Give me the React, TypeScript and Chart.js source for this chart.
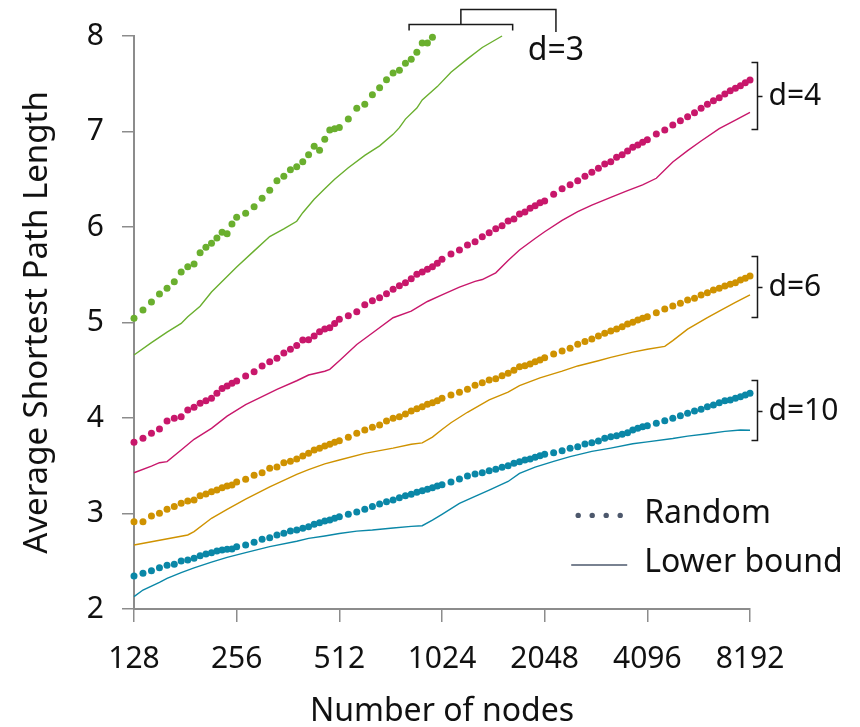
import { useEffect, useRef } from "react";
import { Chart, registerables } from "chart.js";

Chart.register(...registerables);

const FONT = "'Noto Sans', 'Open Sans', sans-serif";

const nodes = [
  128, 136, 144, 152, 160, 168, 176, 184, 192, 200, 208, 216, 224, 232, 240, 248,
  256, 272, 288, 304, 320, 336, 352, 368, 384, 400, 416, 432, 448, 464, 480, 496,
  512, 544, 576, 608, 640, 672, 704, 736, 768, 800, 832, 864, 896, 928, 960, 992,
  1024, 1088, 1152, 1216, 1280, 1344, 1408, 1472, 1536, 1600, 1664, 1728, 1792, 1856, 1920, 1984,
  2048, 2176, 2304, 2432, 2560, 2688, 2816, 2944, 3072, 3200, 3328, 3456, 3584, 3712, 3840, 3968,
  4096, 4352, 4608, 4864, 5120, 5376, 5632, 5888, 6144, 6400, 6656, 6912, 7168, 7424, 7680, 7936,
  8192,
];

const xTickValues = [128, 256, 512, 1024, 2048, 4096, 8192];
const yTickValues = [2, 3, 4, 5, 6, 7, 8];

// Random graphs (dotted), one value per entry of `nodes`
const randomD3 = [
  5.044, 5.131, 5.215, 5.298, 5.358, 5.427, 5.529, 5.584, 5.613, 5.731, 5.787, 5.829, 5.885, 5.944, 5.93, 6.031,
  6.102, 6.144, 6.213, 6.3, 6.384, 6.485, 6.531, 6.6, 6.63, 6.684, 6.757, 6.845, 6.803, 6.918, 7.016, 7.03,
  7.043, 7.131, 7.243, 7.285, 7.386, 7.459, 7.543, 7.613, 7.641, 7.714, 7.756, 7.829, 7.927, 7.927, 7.986,
];
const randomD4 = [
  3.745, 3.787, 3.84, 3.885, 3.969, 3.997, 4.013, 4.084, 4.112, 4.154, 4.18, 4.206, 4.26, 4.31, 4.335, 4.363,
  4.387, 4.44, 4.485, 4.545, 4.59, 4.625, 4.68, 4.72, 4.76, 4.817, 4.82, 4.858, 4.904, 4.932, 4.946, 4.99,
  5.033, 5.071, 5.113, 5.187, 5.229, 5.26, 5.302, 5.348, 5.386, 5.417, 5.459, 5.505, 5.529, 5.557, 5.584, 5.62,
  5.662, 5.717, 5.759, 5.812, 5.846, 5.898, 5.94, 5.982, 6.014, 6.063, 6.084, 6.136, 6.157, 6.196, 6.223, 6.255,
  6.272, 6.342, 6.401, 6.443, 6.485, 6.531, 6.573, 6.615, 6.66, 6.684, 6.73, 6.757, 6.796, 6.835, 6.859, 6.887,
  6.914, 6.974, 7.016, 7.068, 7.113, 7.155, 7.197, 7.243, 7.285, 7.323, 7.354, 7.393, 7.428, 7.452, 7.48, 7.511,
  7.539,
];
const randomD6 = [
  2.914, 2.914, 2.974, 3.002, 3.044, 3.072, 3.107, 3.131, 3.141, 3.187, 3.204, 3.228, 3.246, 3.27, 3.288, 3.298,
  3.33, 3.358, 3.4, 3.427, 3.473, 3.487, 3.532, 3.547, 3.571, 3.602, 3.63, 3.665, 3.682, 3.707, 3.725, 3.745,
  3.762, 3.798, 3.84, 3.874, 3.902, 3.927, 3.969, 3.997, 4.014, 4.042, 4.073, 4.098, 4.119, 4.143, 4.16, 4.181,
  4.206, 4.241, 4.269, 4.3, 4.342, 4.37, 4.398, 4.412, 4.443, 4.468, 4.5, 4.537, 4.548, 4.565, 4.59, 4.607,
  4.632, 4.67, 4.702, 4.73, 4.772, 4.8, 4.827, 4.859, 4.887, 4.911, 4.932, 4.956, 4.984, 5.002, 5.026, 5.044,
  5.061, 5.103, 5.141, 5.173, 5.201, 5.236, 5.253, 5.288, 5.312, 5.34, 5.358, 5.382, 5.4, 5.417, 5.445, 5.463,
  5.487,
];
const randomD10 = [
  2.346, 2.374, 2.401, 2.433, 2.458, 2.468, 2.503, 2.513, 2.531, 2.558, 2.576, 2.59, 2.607, 2.618, 2.625, 2.628,
  2.653, 2.67, 2.698, 2.73, 2.747, 2.775, 2.792, 2.817, 2.827, 2.845, 2.862, 2.887, 2.904, 2.921, 2.932, 2.95,
  2.967, 2.992, 3.016, 3.044, 3.072, 3.1, 3.124, 3.141, 3.165, 3.186, 3.201, 3.222, 3.239, 3.253, 3.27, 3.288,
  3.302, 3.33, 3.361, 3.393, 3.414, 3.427, 3.448, 3.463, 3.483, 3.5, 3.526, 3.543, 3.56, 3.571, 3.588, 3.605,
  3.62, 3.637, 3.658, 3.682, 3.7, 3.728, 3.742, 3.759, 3.787, 3.804, 3.815, 3.829, 3.846, 3.874, 3.892, 3.909,
  3.92, 3.944, 3.972, 3.997, 4.024, 4.049, 4.073, 4.091, 4.119, 4.136, 4.16, 4.181, 4.188, 4.206, 4.223, 4.241,
  4.258,
];

// Lower bounds (solid), read at selected node counts
const boundD3Nodes = [128, 144, 160, 176, 184, 200, 216, 256, 288, 320, 352, 384, 400, 432, 464, 496, 544, 608, 672, 736, 768, 800, 864, 896, 992, 1088, 1216, 1344, 1536];
const boundD3 = [4.66, 4.79, 4.9, 4.99, 5.06, 5.17, 5.32, 5.58, 5.75, 5.9, 5.98, 6.06, 6.15, 6.29, 6.4, 6.5, 6.62, 6.75, 6.85, 6.97, 7.04, 7.13, 7.245, 7.33, 7.47, 7.62, 7.76, 7.88, 8.0];

const boundD4Nodes = [128, 144, 152, 160, 176, 192, 216, 240, 272, 304, 336, 384, 416, 464, 480, 512, 576, 640, 736, 832, 928, 1024, 1152, 1280, 1344, 1472, 1600, 1728, 1920, 2048, 2304, 2560, 2816, 3200, 3584, 3968, 4352, 4864, 5376, 5888, 6656, 7424, 8192];
const boundD4 = [3.427, 3.497, 3.532, 3.543, 3.665, 3.777, 3.892, 4.02, 4.14, 4.223, 4.3, 4.39, 4.45, 4.49, 4.51, 4.6, 4.77, 4.89, 5.05, 5.12, 5.22, 5.29, 5.37, 5.43, 5.45, 5.52, 5.65, 5.76, 5.88, 5.95, 6.07, 6.16, 6.23, 6.31, 6.38, 6.44, 6.51, 6.68, 6.8, 6.9, 7.03, 7.12, 7.2];

const boundD6Nodes = [128, 184, 192, 216, 240, 272, 320, 384, 416, 464, 512, 608, 736, 832, 896, 960, 1024, 1088, 1216, 1408, 1600, 1728, 1984, 2304, 2560, 2944, 3200, 3712, 4096, 4608, 4864, 5376, 6144, 6656, 7424, 8192];
const boundD6 = [2.67, 2.775, 2.81, 2.95, 3.044, 3.15, 3.28, 3.41, 3.46, 3.52, 3.56, 3.63, 3.685, 3.725, 3.74, 3.8, 3.88, 3.95, 4.06, 4.19, 4.27, 4.34, 4.42, 4.49, 4.545, 4.6, 4.635, 4.69, 4.72, 4.75, 4.81, 4.93, 5.05, 5.12, 5.21, 5.29];

const boundD10Nodes = [128, 136, 152, 160, 176, 192, 216, 240, 272, 320, 384, 416, 464, 512, 576, 640, 736, 832, 896, 960, 1024, 1152, 1280, 1408, 1600, 1728, 1920, 2176, 2432, 2816, 3200, 3712, 4096, 4864, 5376, 6144, 6912, 7680, 8192];
const boundD10 = [2.13, 2.199, 2.28, 2.32, 2.38, 2.43, 2.49, 2.54, 2.59, 2.653, 2.71, 2.74, 2.765, 2.79, 2.815, 2.827, 2.848, 2.865, 2.872, 2.93, 2.99, 3.105, 3.18, 3.245, 3.335, 3.42, 3.485, 3.545, 3.595, 3.65, 3.685, 3.73, 3.75, 3.785, 3.81, 3.835, 3.86, 3.874, 3.872];

const seriesColors = { d3: "#6aaf2e", d4: "#c8176b", d6: "#cf9200", d10: "#0a87a7" };

// Bracket annotations on the right (value ranges) and the top (node range)
const sideBrackets = [
  { label: "d=4", top: 7.73, bottom: 7.03 },
  { label: "d=6", top: 5.696, bottom: 5.061 },
  { label: "d=10", top: 4.398, bottom: 3.77 },
];
const topBracket = { label: "d=3", from: 820, to: 1650, outer: 2210 };

const legendItems = ["Random", "Lower bound"];
const legendColor = "#4d586c";

function pts(xs: number[], ys: number[]) {
  return ys.map((v, i) => ({ x: xs[i], y: v }));
}

const annotationPlugin = {
  id: "annotations",
  afterDatasetsDraw(chart: any) {
    const { ctx, chartArea, scales } = chart;
    const xs = scales.x;
    const ys = scales.y;
    ctx.save();
    ctx.strokeStyle = "#1a1a1a";
    ctx.lineWidth = 1.5;
    ctx.fillStyle = "#111";
    ctx.font = `30px ${FONT}`;
    ctx.textBaseline = "middle";
    ctx.textAlign = "left";
    for (const b of sideBrackets) {
      const bx = chartArea.right + 7.5;
      const t = Math.round(ys.getPixelForValue(b.top)) + 0.5;
      const bo = Math.round(ys.getPixelForValue(b.bottom)) + 0.5;
      const m = Math.round((t + bo) / 2) + 0.5;
      ctx.beginPath();
      ctx.moveTo(bx - 6, t);
      ctx.lineTo(bx, t);
      ctx.lineTo(bx, bo);
      ctx.lineTo(bx - 6, bo);
      ctx.moveTo(bx, m);
      ctx.lineTo(bx + 5, m);
      ctx.stroke();
      ctx.fillText(b.label, bx + 11, m);
    }
    // top bracket for d=3
    const xl = xs.getPixelForValue(topBracket.from);
    const xr = xs.getPixelForValue(topBracket.to);
    const xm = (xl + xr) / 2;
    const xu = xs.getPixelForValue(topBracket.outer);
    const yl = chartArea.top - 11.5;
    const yu = chartArea.top - 26.5;
    ctx.beginPath();
    ctx.moveTo(xl, yl + 6);
    ctx.lineTo(xl, yl);
    ctx.lineTo(xr, yl);
    ctx.lineTo(xr, yl + 6);
    ctx.moveTo(xm, yl);
    ctx.lineTo(xm, yu);
    ctx.lineTo(xu, yu);
    ctx.lineTo(xu, chartArea.top - 4);
    ctx.stroke();
    ctx.font = `32px ${FONT}`;
    ctx.textAlign = "center";
    ctx.fillText(topBracket.label, xu, chartArea.top + 15);

    // legend
    ctx.textAlign = "left";
    ctx.fillStyle = legendColor;
    const lx = xs.getPixelForValue(2450);
    const ly1 = ys.getPixelForValue(2.98);
    const ly2 = ys.getPixelForValue(2.46);
    for (let i = 0; i < 4; i++) {
      ctx.beginPath();
      ctx.arc(lx + 7 + i * 14, ly1, 2.7, 0, Math.PI * 2);
      ctx.fill();
    }
    ctx.strokeStyle = legendColor;
    ctx.lineWidth = 1.6;
    ctx.beginPath();
    ctx.moveTo(lx, ly2);
    ctx.lineTo(lx + 56, ly2);
    ctx.stroke();
    ctx.fillStyle = "#111";
    ctx.font = `32px ${FONT}`;
    ctx.fillText(legendItems[0], lx + 73, ly1 - 2);
    ctx.fillText(legendItems[1], lx + 73, ly2 - 2);
    ctx.restore();
  },
};

export default function App() {
  const ref = useRef<HTMLCanvasElement>(null);
  useEffect(() => {
    document.body.style.margin = "0";
    const canvas = ref.current!;
    const axisColor = "#8c8c8c";
    const dot = (label: string, data: number[], color: string) => ({
      label,
      data: pts(nodes, data),
      showLine: false,
      pointRadius: 3.5,
      pointBorderWidth: 0,
      pointBackgroundColor: color,
      borderColor: color,
      backgroundColor: color,
      clip: false as any,
    });
    const line = (label: string, xsv: number[], data: number[], color: string) => ({
      label,
      data: pts(xsv, data),
      showLine: true,
      pointRadius: 0,
      borderWidth: 1.4,
      borderColor: color,
      backgroundColor: color,
      tension: 0,
      clip: false as any,
    });
    const chart = new Chart(canvas, {
      type: "scatter",
      data: {
        datasets: [
          line("Lower bound d=3", boundD3Nodes, boundD3, seriesColors.d3),
          line("Lower bound d=4", boundD4Nodes, boundD4, seriesColors.d4),
          line("Lower bound d=6", boundD6Nodes, boundD6, seriesColors.d6),
          line("Lower bound d=10", boundD10Nodes, boundD10, seriesColors.d10),
          dot("Random d=3", randomD3, seriesColors.d3),
          dot("Random d=4", randomD4, seriesColors.d4),
          dot("Random d=6", randomD6, seriesColors.d6),
          dot("Random d=10", randomD10, seriesColors.d10),
        ] as any,
      },
      options: {
        responsive: false,
        animation: false,
        layout: { padding: { left: 0, right: 110, top: 36, bottom: 0 } },
        plugins: { legend: { display: false }, tooltip: { enabled: false } },
        scales: {
          x: {
            type: "logarithmic",
            min: 128,
            max: 8192,
            afterBuildTicks: (axis: any) => {
              axis.ticks = xTickValues.map((v) => ({ value: v }));
            },
            afterFit: (s: any) => {
              s.height = 118;
            },
            ticks: {
              autoSkip: false,
              maxRotation: 0,
              padding: 19,
              color: "#111",
              font: { family: FONT, size: 30 },
              callback: (v: any) => String(v),
            },
            grid: {
              drawOnChartArea: false,
              drawTicks: true,
              tickLength: 13,
              color: axisColor,
              lineWidth: 1.5,
            },
            border: { color: axisColor, width: 2 },
            title: {
              display: true,
              text: "Number of nodes",
              color: "#111",
              font: { family: FONT, size: 32 },
              padding: { top: 0, bottom: -4 },
            },
          },
          y: {
            type: "linear",
            min: 2,
            max: 8,
            afterBuildTicks: (axis: any) => {
              axis.ticks = yTickValues.map((v) => ({ value: v }));
            },
            afterFit: (s: any) => {
              s.width = 134;
            },
            ticks: {
              padding: 18,
              color: "#111",
              font: { family: FONT, size: 30 },
            },
            grid: {
              drawOnChartArea: false,
              drawTicks: true,
              tickLength: 12,
              color: axisColor,
              lineWidth: 1.5,
            },
            border: { color: axisColor, width: 2 },
            title: {
              display: true,
              text: "Average Shortest Path Length",
              color: "#111",
              font: { family: FONT, size: 33 },
              padding: { top: 18, bottom: 0 },
            },
          },
        },
      },
      plugins: [annotationPlugin],
    });
    return () => chart.destroy();
  }, []);
  return (
    <div style={{ width: 860, height: 727 }}>
      <canvas ref={ref} width={860} height={727} style={{ display: "block" }} />
    </div>
  );
}
